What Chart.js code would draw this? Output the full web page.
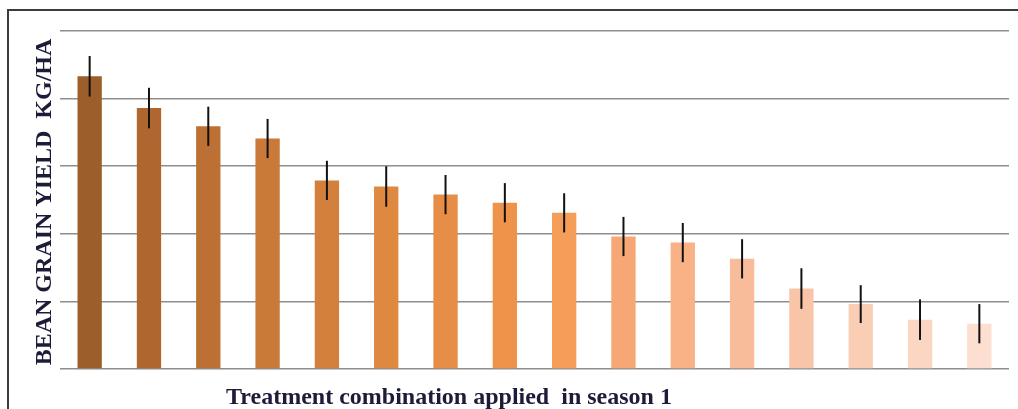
<!DOCTYPE html>
<html lang="en">
<head>
  <meta charset="UTF-8">
  <title>Bean grain yield</title>
  <style>
    body {
      margin: 0;
      padding: 0;
      background: #ffffff;
    }

    .frame {
      position: absolute;
      left: 7px;
      top: 9px;
      width: 1011px;
      height: 400px;
      border-top: 2px solid #3c3c3c;
      border-left: 2px solid #3c3c3c;
    }

    .chart-box {
      position: absolute;
      left: 0;
      top: 0;
      width: 1018px;
      height: 409px;
    }
  </style>
</head>
<body>
<div class="frame"></div>
<div class="chart-box">
  <canvas id="yieldChart"></canvas>
</div>

<script src="https://cdn.jsdelivr.net/npm/chart.js"></script>
<script>
  // treatments (no labels shown on the axis)
  const treatments = ['T1', 'T2', 'T3', 'T4', 'T5', 'T6', 'T7', 'T8',
                      'T9', 'T10', 'T11', 'T12', 'T13', 'T14', 'T15', 'T16'];
  const yieldValues = [4.33, 3.86, 3.59, 3.41, 2.79, 2.70, 2.58, 2.46,
                       2.31, 1.96, 1.87, 1.63, 1.19, 0.96, 0.73, 0.67];
  const yieldErrors = [0.30, 0.30, 0.29, 0.29, 0.29, 0.30, 0.29, 0.29,
                       0.29, 0.29, 0.29, 0.29, 0.30, 0.28, 0.30, 0.29];
  const barColors = ['#9c5e2b', '#b0672f', '#bc7033', '#c97a38', '#d3803c', '#df8840',
                     '#e88d45', '#ef934a', '#f59e5a', '#f7a775', '#f8b286', '#f9bc9a',
                     '#f9c5a8', '#facdb5', '#fbd6c3', '#fcdfd0'];

  const yTitle = 'BEAN GRAIN YIELD  KG/HA';
  const xTitle = 'Treatment combination applied  in season 1';

  // vertical error bars, drawn from the y scale
  const errorBars = {
    id: 'errorBars',
    afterDatasetsDraw(chart) {
      const ctx = chart.ctx;
      const y = chart.scales.y;
      const meta = chart.getDatasetMeta(0);
      ctx.save();
      ctx.strokeStyle = '#111111';
      ctx.lineWidth = 2;
      meta.data.forEach((bar, i) => {
        const v = yieldValues[i];
        const e = yieldErrors[i];
        ctx.beginPath();
        ctx.moveTo(bar.x, y.getPixelForValue(v + e));
        ctx.lineTo(bar.x, y.getPixelForValue(v - e));
        ctx.stroke();
      });
      ctx.restore();
    }
  };

  // axis titles, placed like in the original figure
  const axisTitles = {
    id: 'axisTitles',
    afterDraw(chart) {
      const ctx = chart.ctx;
      ctx.save();
      ctx.fillStyle = '#1c1c38';
      ctx.font = 'bold 24px "Liberation Serif", "Times New Roman", serif';
      ctx.textAlign = 'center';

      ctx.textBaseline = 'alphabetic';
      ctx.fillText(xTitle, 449, 404);

      ctx.translate(45, 202);
      ctx.rotate(-Math.PI / 2);
      ctx.textBaseline = 'middle';
      ctx.fillText(yTitle, 0, 0);
      ctx.restore();
    }
  };

  new Chart(document.getElementById('yieldChart'), {
    type: 'bar',
    data: {
      labels: treatments,
      datasets: [{
        data: yieldValues,
        backgroundColor: barColors,
        borderWidth: 0,
        categoryPercentage: 1.0,
        barPercentage: 0.41
      }]
    },
    options: {
      responsive: true,
      maintainAspectRatio: false,
      animation: false,
      layout: {
        padding: { left: 60, top: 31, right: 9, bottom: 32 }
      },
      plugins: {
        legend: { display: false },
        tooltip: { enabled: false }
      },
      scales: {
        x: {
          grid: { display: false },
          border: { display: false },
          ticks: { display: false }
        },
        y: {
          min: 0,
          max: 5,
          ticks: { display: false, stepSize: 1 },
          border: { display: false },
          grid: {
            color: '#8e8e8e',
            lineWidth: 1.6,
            drawTicks: false
          }
        }
      }
    },
    plugins: [errorBars, axisTitles]
  });
</script>
</body>
</html>
